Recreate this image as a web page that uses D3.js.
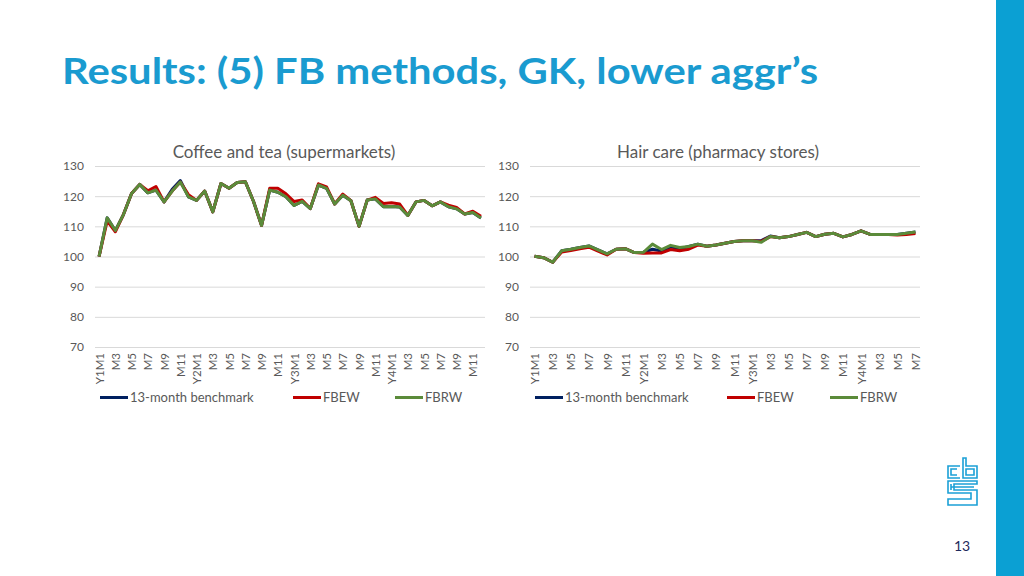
<!DOCTYPE html>
<html><head><meta charset="utf-8">
<script src="https://cdn.jsdelivr.net/npm/d3@7"></script>
<style>
html,body{margin:0;padding:0;background:#fff;}
svg{display:block;}
</style></head>
<body>
<svg id="c" width="1024" height="576"></svg>
<script>
const leftCategories = ["Y1M1","M2","M3","M4","M5","M6","M7","M8","M9","M10","M11","M12",
 "Y2M1","M2","M3","M4","M5","M6","M7","M8","M9","M10","M11","M12",
 "Y3M1","M2","M3","M4","M5","M6","M7","M8","M9","M10","M11","M12",
 "Y4M1","M2","M3","M4","M5","M6","M7","M8","M9","M10","M11","M12"];
const rightCategories = ["Y1M1","M2","M3","M4","M5","M6","M7","M8","M9","M10","M11","M12",
 "Y2M1","M2","M3","M4","M5","M6","M7","M8","M9","M10","M11","M12",
 "Y3M1","M2","M3","M4","M5","M6","M7","M8","M9","M10","M11","M12",
 "Y4M1","M2","M3","M4","M5","M6","M7"];

const leftBenchmark = [100,112.8,108.6,113.9,120.9,123.9,121.1,122,118.1,122.3,125.2,119.8,118.6,121.7,114.8,124.2,122.6,124.5,124.8,118.3,110.3,122,121.3,119.8,116.9,118.3,115.9,123.7,122.6,117.4,120.3,118.5,110,118.7,119.1,116.5,116.6,116.4,113.6,118.1,118.6,116.8,118.1,116.5,115.8,114.1,114.6,112.8];
const leftFBEW = [100,111.8,108.2,113.9,120.9,123.9,121.8,123.2,118.1,121.7,124.7,120.5,118.6,121.7,114.8,124.2,122.6,124.5,124.8,118.3,110.3,122.6,122.6,120.8,118.2,118.7,115.9,124.1,123.1,117.4,120.7,118.5,110,118.7,119.6,117.6,117.8,117.4,113.6,118.1,118.6,116.8,118.1,117,116.3,114.1,115,113.3];
const leftFBRW = [100,112.8,108.6,113.9,120.9,123.9,121.1,122,118.1,121.7,124.7,119.8,118.6,121.7,114.8,124.2,122.6,124.5,124.8,118.3,110.3,122,121.3,119.8,116.9,118.3,115.9,123.7,122.6,117.4,120.3,118.5,110,118.7,119.1,116.5,116.6,116.4,113.6,118.1,118.6,116.8,118.1,116.5,115.8,114.1,114.6,112.8];

const rightBenchmark = [100.1,99.6,98.1,101.9,102.4,103,103.5,102.2,100.9,102.4,102.6,101.3,101.4,102.4,101.8,103.2,102.5,103.3,104.1,103.4,103.8,104.4,105,105.2,105.2,105.3,106.8,106.2,106.6,107.3,108,106.6,107.4,107.7,106.5,107.3,108.5,107.3,107.3,107.3,107.3,107.7,108.1];
const rightFBEW = [100.1,99.6,98.1,101.5,102,102.6,103.1,101.8,100.5,102.4,102.6,101.3,101.1,101.2,101.2,102.3,101.9,102.4,103.8,103.4,103.8,104.4,105,105.2,105.2,105,106.6,106.2,106.6,107.3,108,106.6,107.4,107.7,106.5,107.3,108.5,107.3,107.3,107.3,107.1,107.3,107.6];
const rightFBRW = [100.1,99.6,98.1,101.9,102.4,103,103.5,102.2,100.9,102.4,102.6,101.3,101.4,104.1,102.3,103.7,103,103.3,104.1,103.4,103.8,104.4,105,105.2,105.2,104.7,106.6,106.2,106.6,107.3,108,106.6,107.4,107.7,106.5,107.3,108.5,107.3,107.3,107.3,107.3,107.7,108.1];

const yTicks = [70,80,90,100,110,120,130];
const seriesNames = ["13-month benchmark","FBEW","FBRW"];
const seriesColors = ["#002060","#C00000","#5B8B3A"];

const svg = d3.select("#c");
const FONT = "Lato, 'Open Sans', sans-serif";
const GRAY = "#595959";

// right blue bar
svg.append("rect").attr("x",996).attr("y",0).attr("width",28).attr("height",576).attr("fill","#0BA0D3");

// title
svg.append("text").attr("x",62).attr("y",84)
  .attr("font-family",FONT).attr("font-weight","bold").attr("font-size",36)
  .attr("fill","#1A9BD0").attr("textLength",756).attr("lengthAdjust","spacingAndGlyphs")
  .text("Results: (5) FB methods, GK, lower aggr’s");

// page number
svg.append("text").attr("x",962).attr("y",551).attr("text-anchor","middle")
  .attr("font-family",FONT).attr("font-size",14).attr("fill","#1F2A5C").text("13");

// logo
const logo = svg.append("g").attr("fill","none").attr("stroke","#1BA0D6").attr("stroke-width",1.6).attr("stroke-linejoin","miter");
logo.append("path").attr("d","M960,466 H948 V478 H960 M957,469 H951 V475 H957");
logo.append("path").attr("d","M963,458 V478 H977 V466 H966 V458 Z M966,469 H974 V475 H966 Z");
logo.append("path").attr("d","M977,481 H948 V493 H971 V499 H948 V505 H977 V490 H954 V484 H977 Z");
logo.append("path").attr("d","M951,484 V490 M951,487 H974");

function drawChart(opts){
  const {left, right, title, titleX, cats, data} = opts;
  const g = svg.append("g");
  const y = d3.scaleLinear().domain([70,130]).range([347,166]);
  const x = d3.scalePoint().domain(d3.range(cats.length)).range([left,right]).padding(0.5);

  // gridlines
  g.selectAll("line.grid").data(yTicks).join("line")
    .attr("x1",left).attr("x2",right)
    .attr("y1",d=>y(d)+0.5).attr("y2",d=>y(d)+0.5)
    .attr("stroke","#D9D9D9").attr("stroke-width",1);

  // y labels
  const yAxis = d3.axisLeft(y).tickValues(yTicks).tickSize(0).tickPadding(0);
  const ya = g.append("g").attr("transform",`translate(${left-11},0)`).call(yAxis);
  ya.select(".domain").remove();
  ya.selectAll("text").attr("font-family",FONT).attr("font-size",12).attr("fill",GRAY);

  // x labels
  const xAxis = d3.axisBottom(x).tickValues(d3.range(0,cats.length,2)).tickSize(0).tickPadding(0)
    .tickFormat(i=>cats[i]);
  const xa = g.append("g").attr("transform","translate(0,353)").call(xAxis);
  xa.select(".domain").remove();
  xa.selectAll("text")
    .attr("font-family",FONT).attr("font-size",11.5).attr("fill",GRAY)
    .attr("text-anchor","end").attr("transform","rotate(-90)")
    .attr("x",0).attr("y",0).attr("dy","0.35em");

  // title
  g.append("text").attr("x",titleX).attr("y",158).attr("text-anchor","middle")
    .attr("font-family",FONT).attr("font-size",17).attr("fill",GRAY).text(title);

  // lines
  const line = d3.line().x((d,i)=>x(i)).y(d=>y(d));
  data.forEach((arr,k)=>{
    g.append("path").datum(arr).attr("d",line).attr("fill","none")
      .attr("stroke",seriesColors[k]).attr("stroke-width",3).attr("stroke-linejoin","round");
  });

  // legend
  const legX = opts.legendX;
  seriesNames.forEach((n,k)=>{
    g.append("line").attr("x1",legX[k]).attr("x2",legX[k]+28).attr("y1",397.5).attr("y2",397.5)
      .attr("stroke",seriesColors[k]).attr("stroke-width",3);
    g.append("text").attr("x",legX[k]+30).attr("y",402)
      .attr("font-family",FONT).attr("font-size",13).attr("fill",GRAY).text(n);
  });
}

drawChart({left:95,right:485,title:"Coffee and tea (supermarkets)",titleX:284,cats:leftCategories,
  data:[leftBenchmark,leftFBEW,leftFBRW],legendX:[100,293,395]});
drawChart({left:530,right:920,title:"Hair care (pharmacy stores)",titleX:718,cats:rightCategories,
  data:[rightBenchmark,rightFBEW,rightFBRW],legendX:[535,727,830]});
</script>
</body></html>
